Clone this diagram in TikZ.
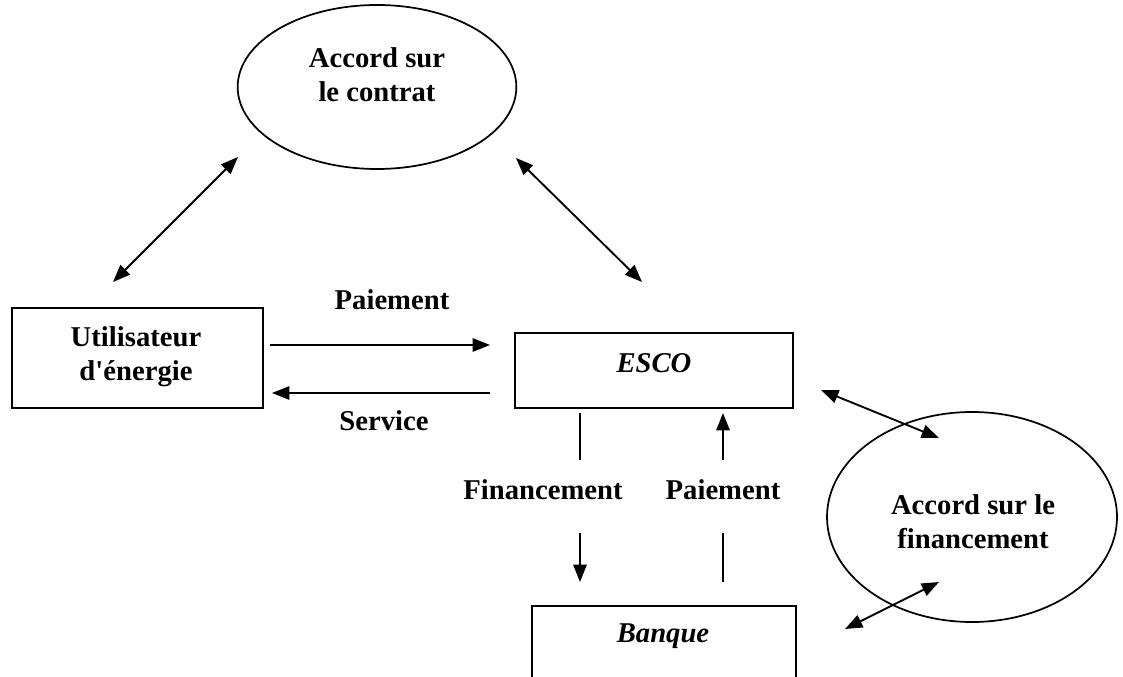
\documentclass[tikz,border=0pt]{standalone}
\usepackage{fontspec}
\setmainfont{Liberation Serif}
\usetikzlibrary{shapes.geometric,arrows.meta}
\begin{document}
\begin{tikzpicture}[x=0.75pt,y=-0.75pt,
  every node/.style={font=\bfseries\fontsize{21.5}{25.5}\selectfont, align=center},
  tip/.style={Triangle[length=13pt,width=10pt]},
  conn/.style={line width=1.4pt, -{Triangle[length=13pt,width=10pt]}},
  dconn/.style={line width=1.4pt, {Triangle[length=13pt,width=10pt]}-{Triangle[length=13pt,width=10pt]}},
  plain/.style={line width=1.4pt},
  boxnode/.style={draw, line width=1.3pt, rectangle, inner sep=0pt},
  ellnode/.style={draw, line width=1.3pt, ellipse, inner sep=0pt},
  lbl/.style={inner sep=0pt}]
\useasboundingbox (0,0) rectangle (1123,677);
\clip (0,0) rectangle (1123,677);
% shapes
\node[ellnode, minimum width=209pt, minimum height=123pt] (contrat) at (377,87) {};
\node[lbl] (contratT) at (377,75) {Accord sur\\le contrat};
\node[boxnode, minimum width=188pt, minimum height=75pt] (user) at (137.5,358) {};
\node[lbl] (userT) at (136,357) {Utilisateur\\d\textquotesingle énergie};
\node[boxnode, minimum width=208.5pt, minimum height=56.25pt] (esco) at (654,370.5) {};
\node[lbl] (escoT) at (654,363) {\itshape ESCO};
\node[boxnode, minimum width=198pt, minimum height=90pt] (banque) at (664,666) {};
\node[lbl] (banqueT) at (663,636) {\itshape Banque};
\node[ellnode, minimum width=217.5pt, minimum height=157.5pt] (fin) at (972,517) {};
\node[lbl] (finT) at (973,522) {Accord sur le\\financement};
% labels
\node[lbl] (paie1) at (392,300) {Paiement};
\node[lbl] (serv) at (384,421) {Service};
\node[lbl] (finc) at (543,490) {Financement};
\node[lbl] (paie2) at (723,490) {Paiement};
% coordinates
\coordinate (a1) at (113,282); \coordinate (a2) at (238,157);
\coordinate (b1) at (516,158); \coordinate (b2) at (642,282);
\coordinate (p1) at (270,345); \coordinate (p2) at (490,345);
\coordinate (s1) at (490,393); \coordinate (s2) at (272,393);
\coordinate (f1) at (580,413); \coordinate (f2) at (580,460);
\coordinate (f3) at (580,533); \coordinate (f4) at (580,582);
\coordinate (q1) at (723,582); \coordinate (q2) at (723,533);
\coordinate (q3) at (723,460); \coordinate (q4) at (723,413);
\coordinate (e1) at (821,390); \coordinate (e2) at (939,438);
\coordinate (g1) at (845,629); \coordinate (g2) at (939,582);
% connectors
\draw[dconn] (a1) -- (a2);
\draw[dconn] (b1) -- (b2);
\draw[conn] (p1) -- (p2);
\draw[conn] (s1) -- (s2);
\draw[plain] (f1) -- (f2);
\draw[conn] (f3) -- (f4);
\draw[plain] (q1) -- (q2);
\draw[conn] (q3) -- (q4);
\draw[dconn] (e1) -- (e2);
\draw[dconn] (g1) -- (g2);
\end{tikzpicture}
\end{document}
